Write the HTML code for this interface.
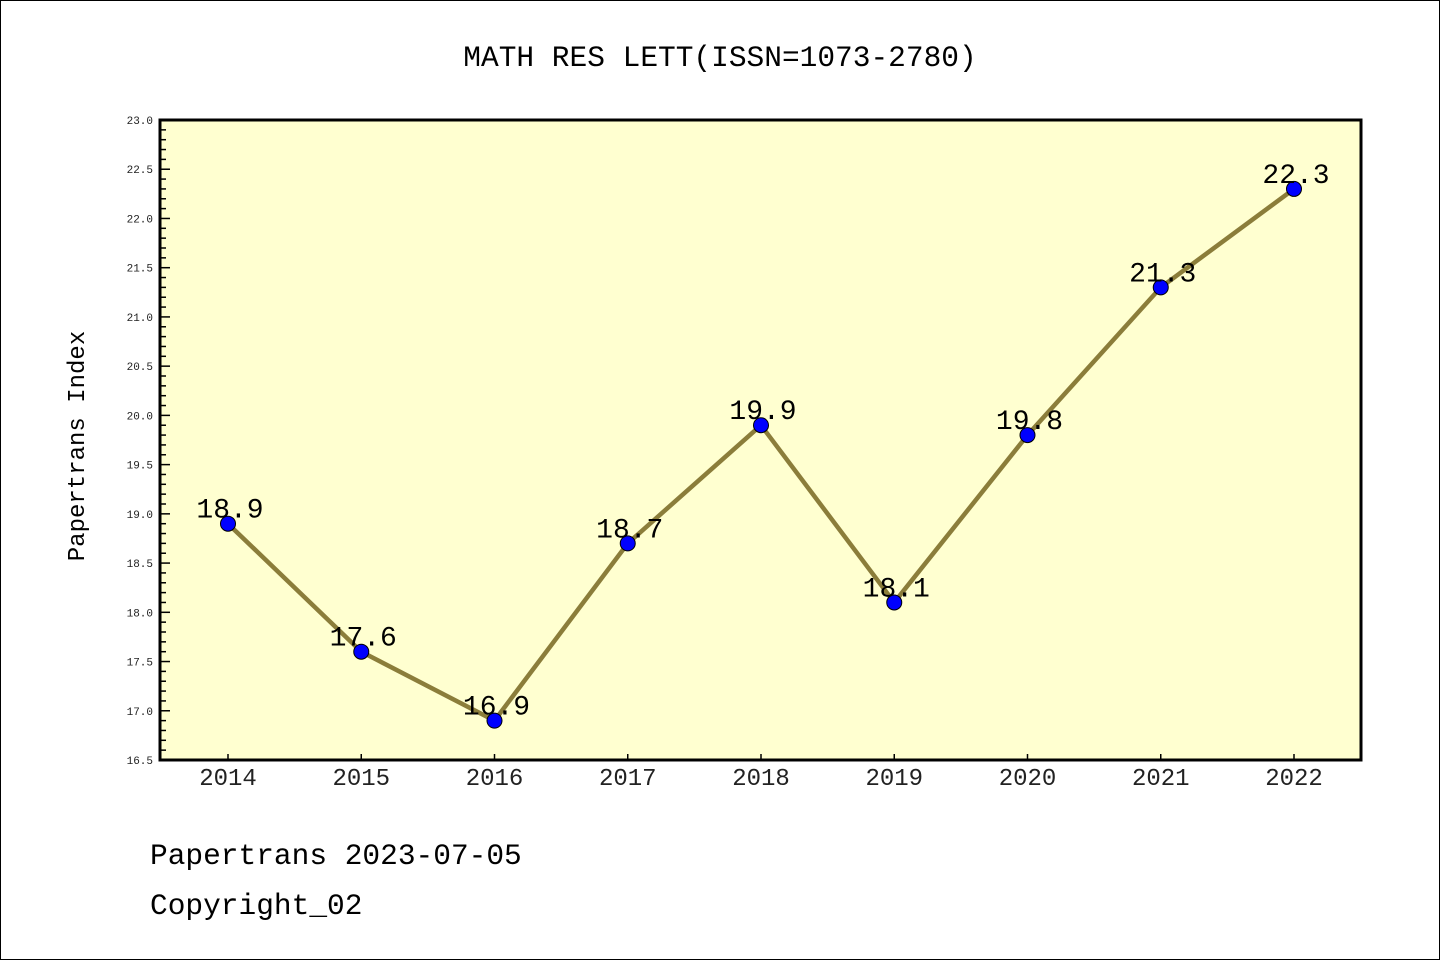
<!DOCTYPE html>
<html><head><meta charset="utf-8"><style>
html,body{margin:0;padding:0;background:#fff}
svg{display:block}
text{font-family:"Liberation Mono","DejaVu Sans Mono",monospace}
</style></head><body>
<svg id="chart" width="1440" height="960">
<rect x="0.5" y="0.5" width="1439" height="959" fill="#fff" stroke="#000"/>
<text x="720" y="66" font-size="29.5" text-anchor="middle">MATH RES LETT(ISSN=1073-2780)</text>
<rect x="160" y="120" width="1201" height="640" fill="#ffffd0"/>
<g id="axes"></g>
<g id="series"></g>
<rect x="160" y="120" width="1201" height="640" fill="none" stroke="#000" stroke-width="3"/>
<text transform="translate(84,446) rotate(-90)" font-size="24" text-anchor="middle">Papertrans Index</text>
<text x="150" y="864" font-size="29.5">Papertrans 2023-07-05</text>
<text x="150" y="914" font-size="29.5">Copyright_02</text>
</svg>
<script>
const years = [2014,2015,2016,2017,2018,2019,2020,2021,2022];
const values = [18.9,17.6,16.9,18.7,19.9,18.1,19.8,21.3,22.3];
const labels = ["18.9","17.6","16.9","18.7","19.9","18.1","19.8","21.3","22.3"];
const yMin = 16.5, yMax = 23.0;
const NS = "http://www.w3.org/2000/svg";
function xs(i){return 228 + i*(1294-228)/(years.length-1);}
function ys(v){return 760 - (v-yMin)/(yMax-yMin)*640;}
function mk(tag,attrs,parent){const e=document.createElementNS(NS,tag);for(const k in attrs)e.setAttribute(k,attrs[k]);parent.appendChild(e);return e;}
const ax=document.getElementById('axes'), se=document.getElementById('series');
for(let k=0;k<=65;k++){
  const v=yMin+k*0.1, y=ys(v), major=k%5===0;
  const t=mk('line',{x1:160,x2:major?170:166,y1:y,y2:y,stroke:'#000','stroke-width':1.5},ax);
  
  
  if(major){
    const l=mk('text',{x:153,y:y+4,'font-size':11,'text-anchor':'end',fill:'#222','font-family':'Liberation Sans, sans-serif'},ax);
    l.textContent=v.toFixed(1);
    
    
  }
}
years.forEach((yr,i)=>{
  const x=xs(i);
  const t=mk('line',{x1:x,x2:x,y1:760,y2:754,stroke:'#000','stroke-width':1.5},ax);
  
  
  const l=mk('text',{x:x,y:785,'font-size':24,'text-anchor':'middle',fill:'#222','font-family':'Liberation Sans Narrow, Liberation Sans, sans-serif'},ax);
  l.textContent=yr;
  
  
});
const pl=mk('polyline',{points:values.map((v,i)=>xs(i)+','+ys(v)).join(' '),fill:'none',stroke:'#8b7d3a','stroke-width':4.5},se);


values.forEach((v,i)=>{
  const c=mk('circle',{cx:xs(i),cy:ys(v),r:7.5,fill:'#0000ff',stroke:'#000','stroke-width':1},se);
  
  
  const l=mk('text',{x:xs(i)+2,y:ys(v)-6,'font-size':28,'text-anchor':'middle'},se);
  l.textContent=labels[i];
  
  
});
</script>
</body></html>
